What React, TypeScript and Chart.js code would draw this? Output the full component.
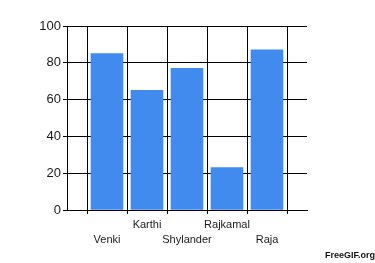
import { useEffect, useRef } from "react";
import { Chart, registerables } from "chart.js";

Chart.register(...registerables);

const categories = ["Venki", "Karthi", "Shylander", "Rajkamal", "Raja"];
const scores = [85, 65, 77, 23, 87];
const yTicks = [0, 20, 40, 60, 80, 100];
const creditText = "FreeGIF.org";

export default function App() {
  const ref = useRef<HTMLCanvasElement>(null);

  useEffect(() => {
    document.body.style.margin = "0";
    const chart = new Chart(ref.current!, {
      type: "bar",
      data: {
        datasets: [
          {
            data: categories.map((c, i) => ({ x: i + 1, y: scores[i] })),
            backgroundColor: "#418BEE",
            borderWidth: 0,
            barThickness: 32,
          },
        ],
      },
      options: {
        animation: false,
        responsive: false,
        layout: { padding: { top: 26, right: 68, left: 0, bottom: 0 } },
        plugins: { legend: { display: false }, tooltip: { enabled: false } },
        scales: {
          x: {
            type: "linear",
            min: 0,
            max: categories.length + 1,
            offset: false,
            afterBuildTicks: (s: any) => {
              s.ticks = Array.from({ length: categories.length + 2 }, (_, i) => ({ value: i }));
            },
            afterFit: (s: any) => {
              s.height = 53;
            },
            ticks: {
              autoSkip: false,
              maxRotation: 0,
              padding: 3,
              color: "#1a1a1a",
              font: { family: "Liberation Sans", size: 11, lineHeight: "15px" },
              callback: (v: any) => {
                const i = Number(v) - 1;
                if (i < 0 || i >= categories.length) return "";
                return i % 2 === 0 ? ["", categories[i]] : [categories[i], ""];
              },
            },
            grid: { color: "#000", lineWidth: 1, tickLength: 4 },
            border: { color: "#000", width: 1 },
          },
          y: {
            min: 0,
            max: 100,
            afterBuildTicks: (s: any) => {
              s.ticks = yTicks.map((v) => ({ value: v }));
            },
            afterFit: (s: any) => {
              s.width = 67;
            },
            ticks: {
              padding: 2,
              color: "#1a1a1a",
              font: { family: "Liberation Sans", size: 13 },
            },
            grid: { color: "#000", lineWidth: 1, tickLength: 4 },
            border: { color: "#000", width: 1 },
          },
        },
      },
    } as any);
    return () => chart.destroy();
  }, []);

  return (
    <div style={{ position: "relative", width: 375, height: 263 }}>
      <canvas ref={ref} width={375} height={263} style={{ display: "block" }} />
      <div
        style={{
          position: "absolute",
          left: 325,
          top: 251,
          fontFamily: "Liberation Sans",
          fontWeight: "bold",
          fontSize: 9,
          lineHeight: "9px",
          color: "#111",
          whiteSpace: "nowrap",
        }}
      >
        {creditText}
      </div>
    </div>
  );
}
